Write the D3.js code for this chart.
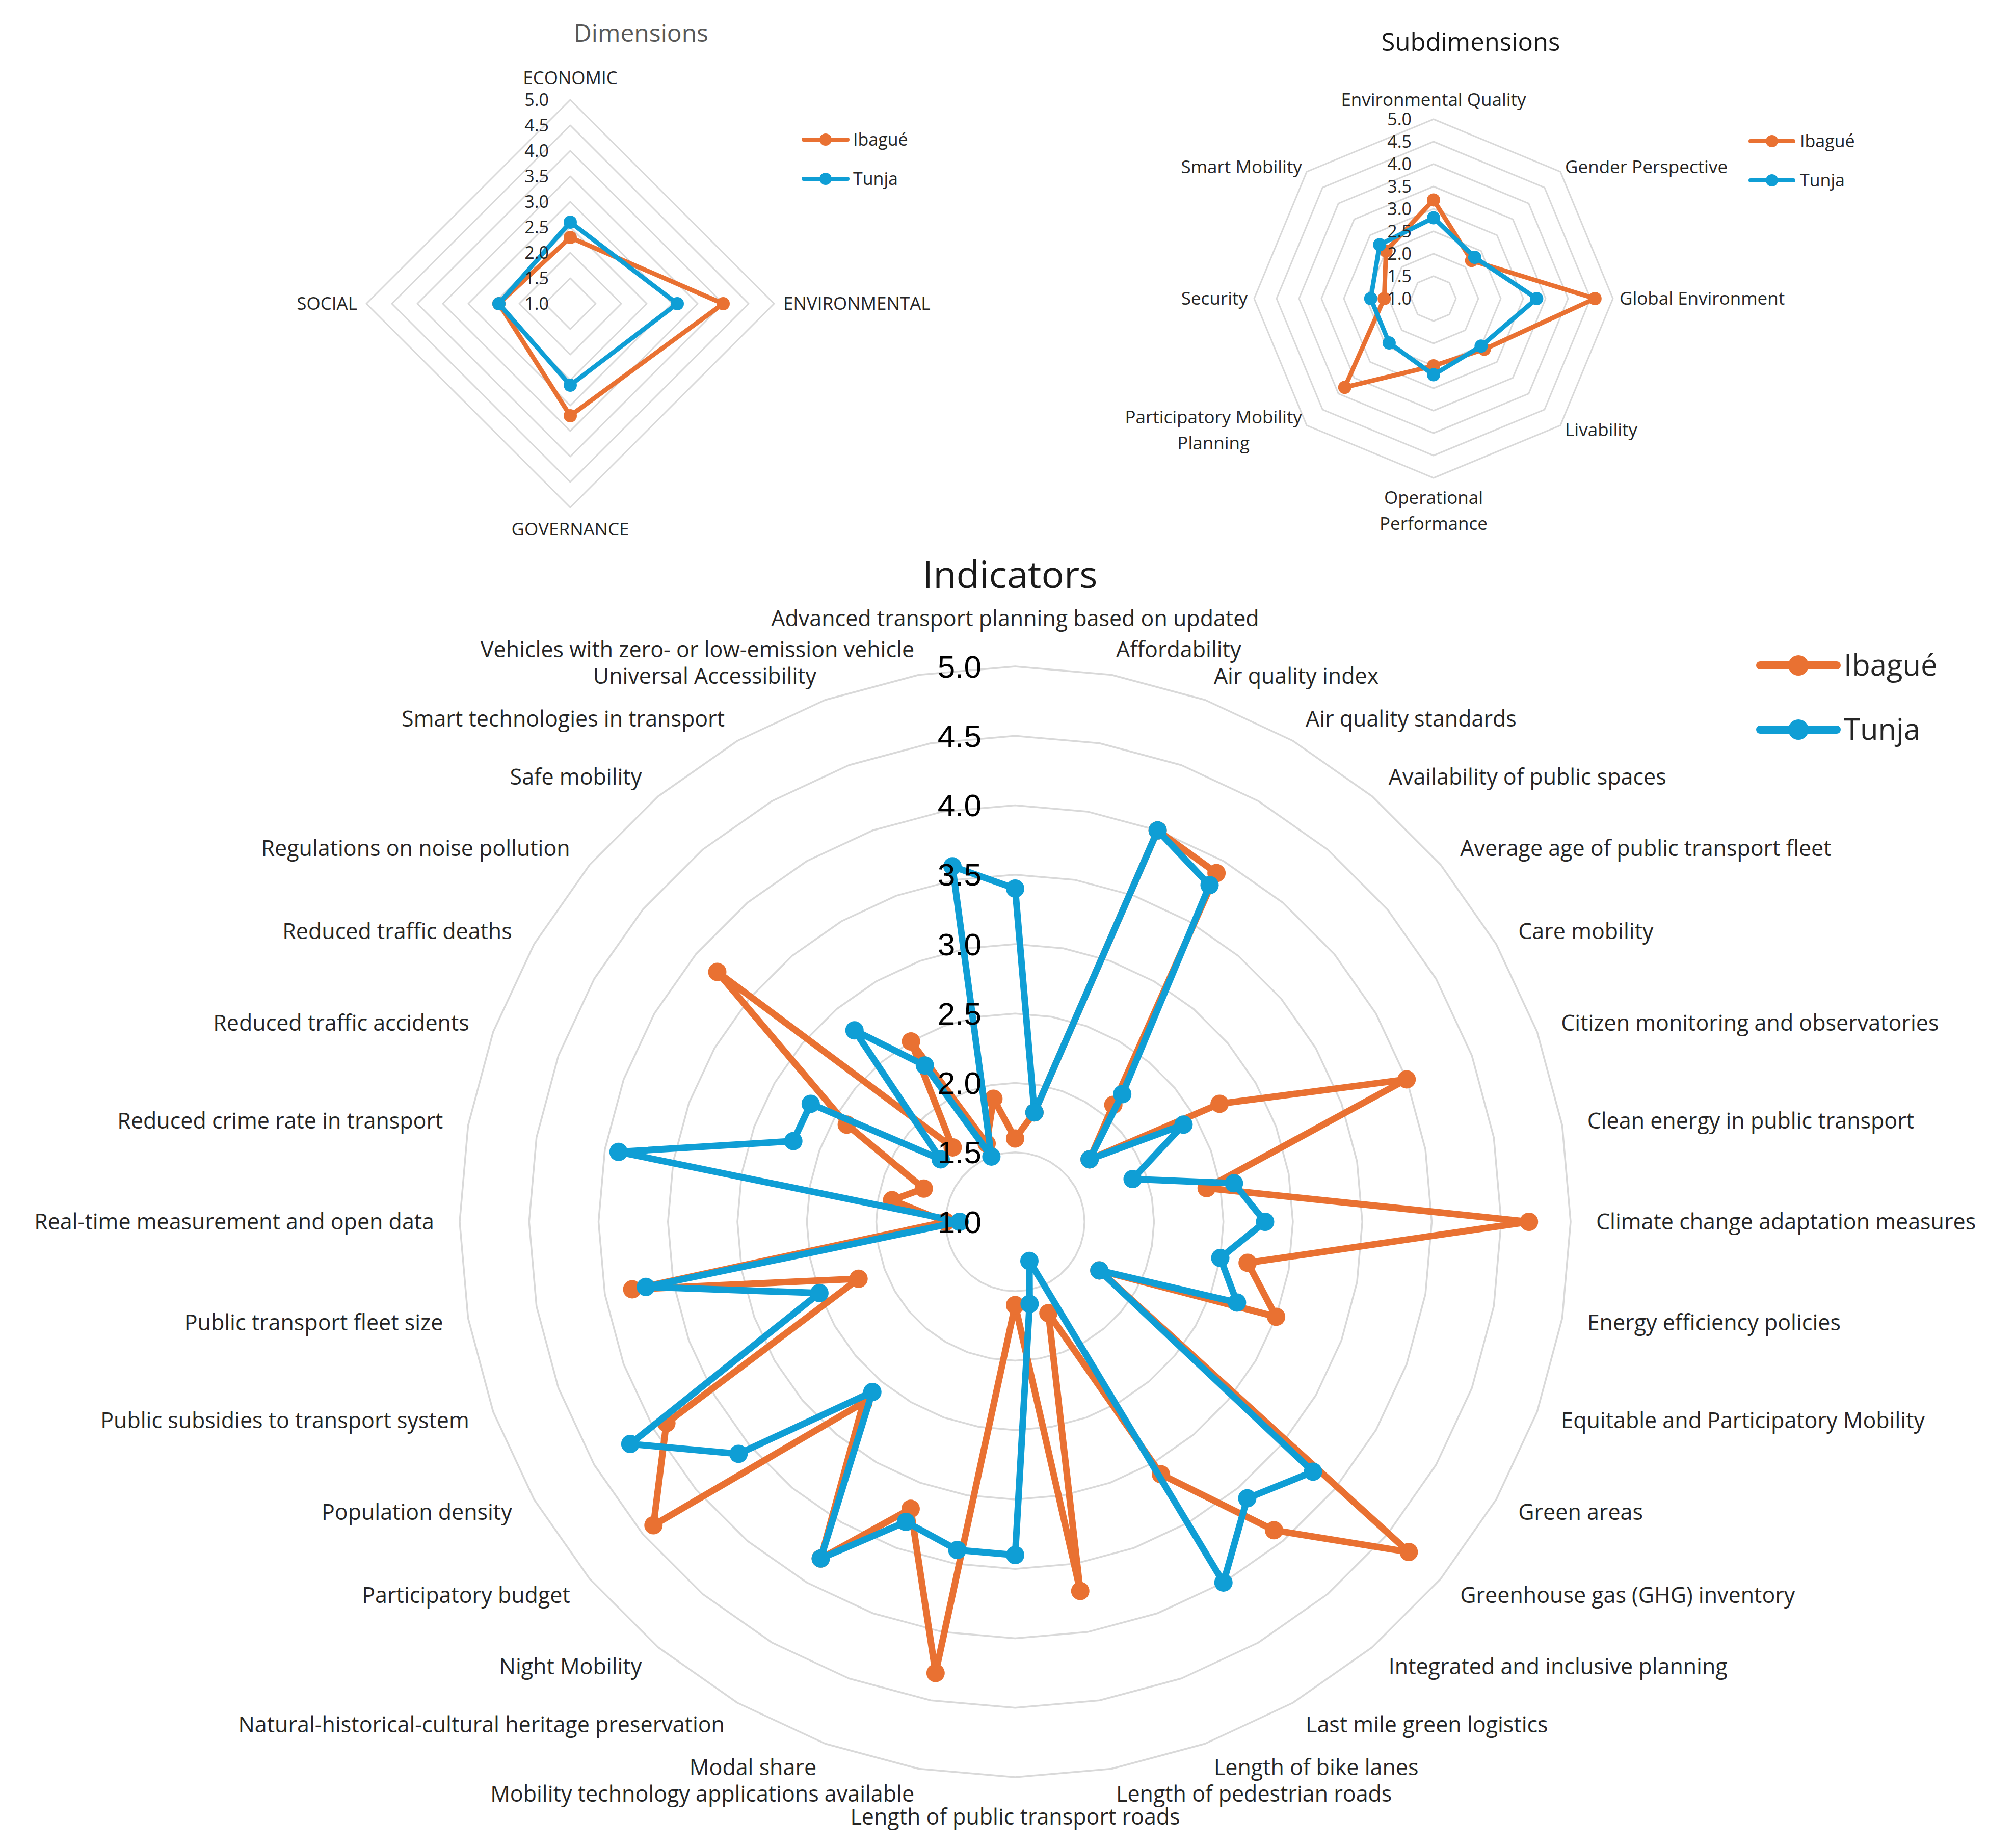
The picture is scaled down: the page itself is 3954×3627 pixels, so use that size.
<!DOCTYPE html>
<html>
<head>
<meta charset="utf-8">
<script src="https://cdn.jsdelivr.net/npm/d3@7"></script>
<style>
  html, body { margin: 0; padding: 0; background: #ffffff; }
  svg { display: block; }
</style>
</head>
<body>
<script>
// ---------------- DATA ----------------
const seriesNames = ["Ibagué", "Tunja"];
const seriesColors = ["#E97132", "#0F9ED5"];

const tickValues = [1.0, 1.5, 2.0, 2.5, 3.0, 3.5, 4.0, 4.5, 5.0];

const dimCategories = ["ECONOMIC", "ENVIRONMENTAL", "GOVERNANCE", "SOCIAL"];
const dimIbague = [2.3, 4.0, 3.2, 2.4];
const dimTunja  = [2.6, 3.1, 2.6, 2.4];

const subCategories = [
  "Environmental Quality", "Gender Perspective", "Global Environment", "Livability",
  "Operational Performance", "Participatory Mobility Planning", "Security", "Smart Mobility"
];
const subIbague = [3.2, 2.2, 4.6, 2.6, 2.5, 3.8, 2.1, 2.5];
const subTunja  = [2.8, 2.3, 3.3, 2.5, 2.7, 2.4, 2.4, 2.7];

const indCategories = [
  "Advanced transport planning based on updated",
  "Affordability",
  "Air quality index",
  "Air quality standards",
  "Availability of public spaces",
  "Average age of public transport fleet",
  "Care mobility",
  "Citizen monitoring and observatories",
  "Clean energy in public transport",
  "Climate change adaptation measures",
  "Energy efficiency policies",
  "Equitable and Participatory Mobility",
  "Green areas",
  "Greenhouse gas (GHG) inventory",
  "Integrated and inclusive planning",
  "Last mile green logistics",
  "Length of bike lanes",
  "Length of pedestrian roads",
  "Length of public transport roads",
  "Mobility technology applications available",
  "Modal share",
  "Natural-historical-cultural heritage preservation",
  "Night Mobility",
  "Participatory budget",
  "Population density",
  "Public subsidies to transport system",
  "Public transport fleet size",
  "Real-time measurement and open data",
  "Reduced crime rate in transport",
  "Reduced traffic accidents",
  "Reduced traffic deaths",
  "Regulations on noise pollution",
  "Safe mobility",
  "Smart technologies in transport",
  "Universal Accessibility",
  "Vehicles with zero- or low-emission vehicle"
];
const indIbague = [
  1.6, 1.8, 4.0, 3.9, 2.1, 1.7, 2.7, 4.0, 2.4, 4.7,
  2.7, 3.0, 1.7, 4.7, 3.9, 3.1, 1.7, 3.7, 1.6, 4.3,
  3.2, 3.8, 2.7, 4.4, 3.9, 2.2, 3.8, 1.5, 1.9, 1.7,
  2.4, 3.8, 1.7, 2.5, 1.6, 1.9
];
const indTunja = [
  3.4, 1.8, 4.0, 3.8, 2.2, 1.7, 2.4, 1.9, 2.6, 2.8,
  2.5, 2.7, 1.7, 3.8, 3.6, 4.0, 1.3, 1.6, 3.4, 3.4,
  3.3, 3.8, 2.6, 3.6, 4.2, 2.5, 3.7, 1.4, 3.9, 2.7,
  2.7, 1.7, 2.8, 2.3, 1.5, 3.6
];

// label line wrapping (layout only)
const labelLines = {
  "Operational Performance": ["Operational", "Performance"],
  "Participatory Mobility Planning": ["Participatory Mobility", "Planning"]
};

// ---------------- LAYOUT ----------------
const W = 3954, H = 3627;
const svg = d3.select("body").append("svg")
  .attr("width", W).attr("height", H)
  .attr("viewBox", `0 0 ${W} ${H}`);
svg.append("rect").attr("width", W).attr("height", H).attr("fill", "#ffffff");

const LABEL_FONT = "'Open Sans', 'Noto Sans', sans-serif";

function drawRadar(o) {
  const g = svg.append("g").attr("transform", `translate(${o.cx},${o.cy})`);
  const n = o.categories.length;
  const r = d3.scaleLinear().domain([1, 5]).range([0, o.R]);
  const ang = d3.scaleLinear().domain([0, n]).range([0, 2 * Math.PI]);
  const idx = d3.range(n);

  // grid rings
  tickValues.filter(t => t > 1).forEach(t => {
    const line = d3.lineRadial().angle(i => ang(i)).radius(() => r(t)).curve(d3.curveLinearClosed);
    g.append("path").attr("d", line(idx))
      .attr("fill", "none").attr("stroke", o.ringColor)
      .attr("stroke-width", o.ringWidth).attr("stroke-linejoin", "round");
  });

  // series
  o.series.forEach(s => {
    const line = d3.lineRadial().angle((d, i) => ang(i)).radius(d => r(d)).curve(d3.curveLinearClosed);
    g.append("path").attr("d", line(s.values))
      .attr("fill", "none").attr("stroke", s.color)
      .attr("stroke-width", o.lineWidth).attr("stroke-linejoin", "round");
    g.selectAll(null).data(s.values).enter().append("circle")
      .attr("cx", (d, i) => r(d) * Math.sin(ang(i)))
      .attr("cy", (d, i) => -r(d) * Math.cos(ang(i)))
      .attr("r", o.markerR).attr("fill", s.color);
  });

  // tick labels
  g.selectAll(null).data(tickValues).enter().append("text")
    .attr("x", -o.tickOffset).attr("y", d => -r(d)).attr("dy", "0.35em")
    .attr("text-anchor", "end")
    .attr("font-family", o.tickFont).attr("font-size", o.tickSize)
    .attr("fill", o.tickColor)
    .text(d => d.toFixed(1));

  // category labels
  o.categories.forEach((cat, i) => {
    const a = ang(i), sn = Math.sin(a), cs = Math.cos(a);
    const lines = labelLines[cat] || [cat];
    const m = lines.length, lh = o.lineHeight;
    const lx = o.labelR * sn, ly = -o.labelR * cs;
    let firstY, anchor;
    if (Math.abs(sn) < 1e-6) {
      anchor = "middle";
      firstY = cs > 0 ? ly - m * lh + lh / 2 - (o.topExtra || 0) : ly + lh / 2;
    } else {
      anchor = sn > 0 ? "start" : "end";
      firstY = ly - (m - 1) * lh / 2;
    }
    const texts = lines.map((t, k) => g.append("text")
      .attr("x", lx).attr("y", firstY + k * lh).attr("dy", "0.35em")
      .attr("text-anchor", anchor)
      .attr("font-family", LABEL_FONT).attr("font-size", o.labelSize)
      .attr("fill", o.labelColor).text(t));
    if (m > 1 && anchor !== "middle") {
      const bw = d3.max(texts, t => t.node().getComputedTextLength());
      const mid = anchor === "start" ? lx + bw / 2 : lx - bw / 2;
      texts.forEach(t => t.attr("text-anchor", "middle").attr("x", mid));
    }
  });
}

function drawLegend(o) {
  const g = svg.append("g");
  seriesNames.forEach((name, i) => {
    const y = o.y0 + i * o.dy;
    g.append("line").attr("x1", o.x0).attr("x2", o.x1).attr("y1", y).attr("y2", y)
      .attr("stroke", seriesColors[i]).attr("stroke-width", o.lineWidth)
      .attr("stroke-linecap", "round");
    g.append("circle").attr("cx", (o.x0 + o.x1) / 2).attr("cy", y)
      .attr("r", o.markerR).attr("fill", seriesColors[i]);
    g.append("text").attr("x", o.x1 + o.gap).attr("y", y).attr("dy", "0.35em")
      .attr("font-family", LABEL_FONT).attr("font-size", o.size)
      .attr("fill", "#262626").text(name);
  });
}

function title(text, x, y, size, color) {
  svg.append("text").attr("x", x).attr("y", y).attr("dy", "0.35em")
    .attr("text-anchor", "middle").attr("font-family", LABEL_FONT)
    .attr("font-size", size).attr("fill", color).text(text);
}

// ---- Dimensions ----
title("Dimensions", 1258, 65, 48, "#595959");
drawRadar({
  cx: 1119, cy: 596, R: 400, categories: dimCategories,
  series: [
    { name: seriesNames[0], values: dimIbague, color: seriesColors[0] },
    { name: seriesNames[1], values: dimTunja, color: seriesColors[1] }
  ],
  ringColor: "#d9d9d9", ringWidth: 3, lineWidth: 9, markerR: 13,
  tickFont: LABEL_FONT, tickSize: 34, tickColor: "#262626", tickOffset: 42,
  labelSize: 35, labelColor: "#262626", labelR: 418, lineHeight: 50
});
drawLegend({ x0: 1577, x1: 1663, y0: 274, dy: 77, lineWidth: 8, markerR: 12, gap: 11, size: 34 });

// ---- Subdimensions ----
title("Subdimensions", 2886, 83, 49, "#1a1a1a");
drawRadar({
  cx: 2813, cy: 586, R: 352, categories: subCategories,
  series: [
    { name: seriesNames[0], values: subIbague, color: seriesColors[0] },
    { name: seriesNames[1], values: subTunja, color: seriesColors[1] }
  ],
  ringColor: "#d9d9d9", ringWidth: 3, lineWidth: 9, markerR: 13,
  tickFont: LABEL_FONT, tickSize: 34, tickColor: "#262626", tickOffset: 43,
  labelSize: 35, labelColor: "#262626", labelR: 365, lineHeight: 51
});
drawLegend({ x0: 3435, x1: 3519, y0: 277, dy: 77, lineWidth: 8, markerR: 12, gap: 13, size: 34 });

// ---- Indicators ----
title("Indicators", 1982, 1128, 74, "#1a1a1a");
drawRadar({
  cx: 1992, cy: 2398, R: 1090, categories: indCategories,
  series: [
    { name: seriesNames[0], values: indIbague, color: seriesColors[0] },
    { name: seriesNames[1], values: indTunja, color: seriesColors[1] }
  ],
  ringColor: "#d9d9d9", ringWidth: 3.5, lineWidth: 13, markerR: 18,
  tickFont: "'Liberation Sans', Arial, sans-serif", tickSize: 62, tickColor: "#000000", tickOffset: 66,
  labelSize: 43, labelColor: "#262626", labelR: 1140, lineHeight: 56, topExtra: 16
});
drawLegend({ x0: 3454, x1: 3604, y0: 1306, dy: 126, lineWidth: 16, markerR: 20, gap: 14, size: 58 });
</script>
</body>
</html>
